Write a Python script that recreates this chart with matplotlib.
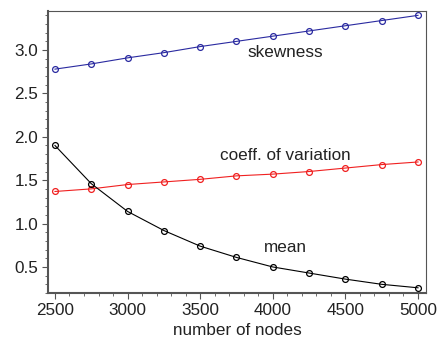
import numpy as np
import matplotlib.pyplot as plt
from matplotlib.ticker import MultipleLocator

plt.rcParams['font.family'] = ['Liberation Sans', 'DejaVu Sans']

nodes = [2500, 2750, 3000, 3250, 3500, 3750, 4000, 4250, 4500, 4750, 5000]
skewness = [2.78, 2.84, 2.91, 2.97, 3.04, 3.10, 3.16, 3.22, 3.28, 3.34, 3.40]
coeff_var = [1.37, 1.40, 1.45, 1.48, 1.51, 1.55, 1.57, 1.60, 1.64, 1.68, 1.71]
mean = [1.90, 1.46, 1.14, 0.92, 0.74, 0.61, 0.50, 0.43, 0.36, 0.30, 0.26]

fig = plt.figure(figsize=(4.4, 3.39), dpi=100)
ax = fig.add_axes([48/440, 46/339, 378/440, 282/339])

series = [(skewness, '#2a2aa0'), (coeff_var, '#f02020'), (mean, 'black')]
for vals, c in series:
    ax.plot(nodes, vals, '-', color=c, lw=0.8)
    ax.plot(nodes, vals, 'o', mfc='none', mec=c, ms=4.2, mew=0.9)

fs = 12.3
ax.text(4084, 2.97, 'skewness', ha='center', va='center', fontsize=fs, color='#222222')
ax.text(4084, 1.78, 'coeff. of variation', ha='center', va='center', fontsize=fs, color='#222222')
ax.text(4084, 0.73, 'mean', ha='center', va='center', fontsize=fs, color='#222222')

ax.set_xlim(2452, 5055)
ax.set_ylim(0.2, 3.45)
ax.xaxis.set_major_locator(MultipleLocator(500))
ax.xaxis.set_minor_locator(MultipleLocator(100))
ax.yaxis.set_major_locator(MultipleLocator(0.5))
ax.yaxis.set_minor_locator(MultipleLocator(0.1))
ax.yaxis.set_major_formatter(plt.FormatStrFormatter('%.1f'))
ax.tick_params(which='both', direction='out', color='#555555', labelsize=fs, labelcolor='#222222')
ax.tick_params(which='major', length=4, pad=3)
ax.tick_params(which='minor', length=2.5)
for s in ax.spines.values():
    s.set_color('#555555')
ax.spines['left'].set_linewidth(1.5)
ax.spines['bottom'].set_linewidth(1.5)
ax.set_xlabel('number of nodes', fontsize=fs, color='#222222', labelpad=4)

fig.savefig('out.png', dpi=100)
